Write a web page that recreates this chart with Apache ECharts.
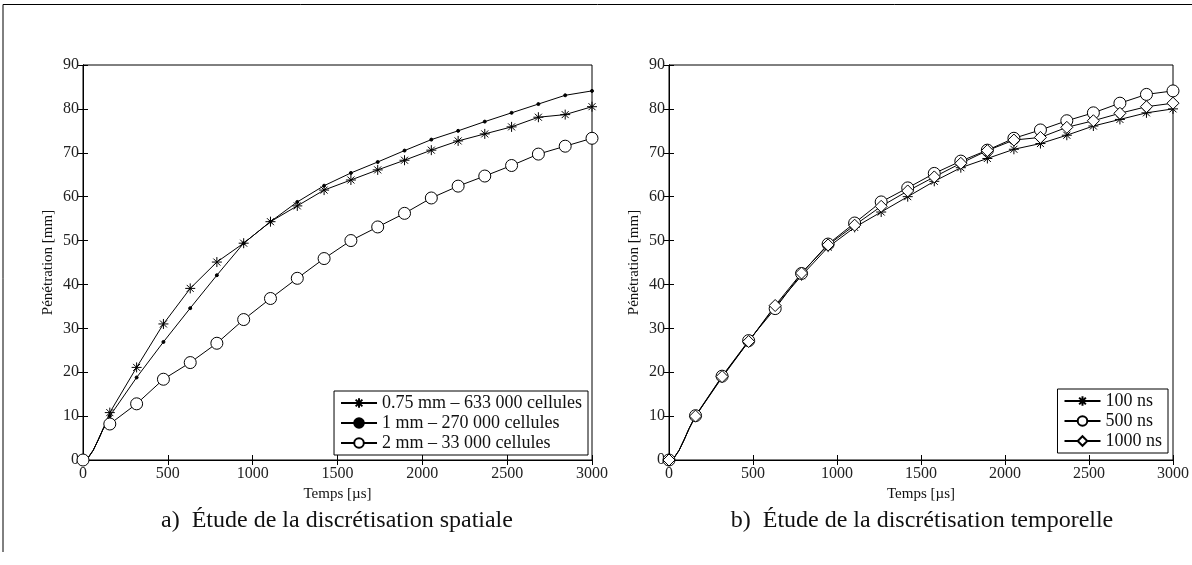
<!DOCTYPE html>
<html>
<head>
<meta charset="utf-8">
<script src="https://cdn.jsdelivr.net/npm/echarts@6/dist/echarts.min.js"></script>
<style>html,body{margin:0;padding:0;background:#fff}#c{width:1192px;height:565px}</style>
</head>
<body>
<div id="c"></div>
<script>
// ---- data ----
const startTimes = [30, 60, 90, 120];            // unmarked early points (µs)
const startVals  = [0.5, 2.2, 4.6, 7.2];         // shared start of curves (mm)
const markerTimes = [0,158,316,474,632,789,947,1105,1263,1421,1579,1737,1895,2053,2211,2368,2526,2684,2842,3000];

// a) spatial discretisation
const s075 = [0,10.8,21.1,31.0,39.1,45.1,49.4,54.3,57.9,61.5,63.8,66.1,68.3,70.6,72.7,74.3,75.9,78.1,78.7,80.5];
const s1   = [0,10.0,18.8,26.9,34.6,42.1,49.4,54.3,58.8,62.5,65.4,67.9,70.5,73.0,75.0,77.1,79.1,81.1,83.1,84.1];
const s2   = [0,8.2,12.8,18.4,22.2,26.6,32.0,36.8,41.4,45.9,50.0,53.1,56.2,59.7,62.4,64.7,67.1,69.7,71.5,73.3];
// b) temporal discretisation
const t100  = [0,10.0,18.8,27.0,35.0,42.0,48.5,53.0,56.5,60.0,63.5,66.6,68.7,70.8,72.1,74.0,76.1,77.6,79.1,80.0];
const t500  = [0,10.1,19.1,27.2,34.5,42.5,49.2,54.0,58.8,62.0,65.3,68.1,70.6,73.3,75.2,77.3,79.1,81.3,83.3,84.1];
const t1000 = [0,10.0,19.0,27.0,35.2,42.6,49.0,53.5,57.8,61.3,64.5,67.6,70.5,72.9,73.5,75.8,77.3,79.0,80.5,81.3];

const namesA = ['0.75 mm – 633 000 cellules', '1 mm – 270 000 cellules', '2 mm – 33 000 cellules'];
const namesB = ['100 ns', '500 ns', '1000 ns'];
const xTicks = [0, 500, 1000, 1500, 2000, 2500, 3000];
const yTicks = [0, 10, 20, 30, 40, 50, 60, 70, 80, 90];
const captions = ['a)  Étude de la discrétisation spatiale', 'b)  Étude de la discrétisation temporelle'];

// ---- chart ----
const FONT = "'Liberation Serif','Times New Roman',serif";
const ASTERISK = 'path://M10,0L10,20M0,10L20,10M3,3L17,17M3,17L17,3';

function buildData(vals) {
  const out = [[markerTimes[0], vals[0]]];
  startTimes.forEach((t, i) => out.push({value: [t, startVals[i]], symbol: 'none'}));
  for (let i = 1; i < markerTimes.length; i++) out.push([markerTimes[i], vals[i]]);
  return out;
}

function mkSeries(name, vals, idx, symbol, size, fill) {
  return {
    name, type: 'line', xAxisIndex: idx * 2, yAxisIndex: idx * 2,
    data: buildData(vals),
    symbol, symbolSize: size, showAllSymbol: true,
    lineStyle: {color: '#000', width: 1, type: 'solid'},
    itemStyle: {color: fill, borderColor: '#000', borderWidth: 1},
    emphasis: {disabled: true}, z: 3
  };
}

const grids = [
  {left: 83, right: 600, top: 65, bottom: 105, show: true, borderColor: '#000', borderWidth: 1},
  {left: 669, right: 16, top: 65, bottom: 105, show: true, borderColor: '#000', borderWidth: 1}
];

function xAxes(g) {
  const base = {
    type: 'value', gridIndex: g, min: 0, max: 3000, interval: 500,
    axisLine: {lineStyle: {color: '#000', width: 1}},
    axisTick: {inside: true, length: 5, lineStyle: {color: '#000'}},
    splitLine: {show: false}
  };
  return [
    Object.assign({}, base, {
      position: 'bottom', name: 'Temps [µs]', nameLocation: 'middle', nameGap: 27,
      nameTextStyle: {fontFamily: FONT, fontSize: 15, color: '#111'},
      axisLabel: {fontFamily: FONT, fontSize: 16, color: '#222', margin: 6,
        formatter: v => xTicks.includes(v) ? String(v) : ''}
    }),
    Object.assign({}, base, {position: 'top', axisLabel: {show: false}})
  ];
}
function yAxes(g) {
  const base = {
    type: 'value', gridIndex: g, min: 0, max: 90, interval: 10,
    axisLine: {lineStyle: {color: '#000', width: 1}},
    axisTick: {inside: true, length: 5, lineStyle: {color: '#000'}},
    splitLine: {show: false}
  };
  return [
    Object.assign({}, base, {
      position: 'left', name: 'Pénétration [mm]', nameLocation: 'middle', nameGap: 27,
      nameTextStyle: {fontFamily: FONT, fontSize: 15, color: '#111'},
      axisLabel: {fontFamily: FONT, fontSize: 16, color: '#222', margin: 4,
        formatter: v => yTicks.includes(v) ? String(v) : ''}
    }),
    Object.assign({}, base, {position: 'right', axisLabel: {show: false}})
  ];
}

const legendBase = {
  orient: 'vertical', backgroundColor: '#fff', borderColor: '#000', borderWidth: 1,
  itemWidth: 36, itemHeight: 12, itemGap: 2,
  textStyle: {fontFamily: FONT, fontSize: 18, color: '#111'},
  selectedMode: false
};

const option = {
  animation: false,
  backgroundColor: '#fff',
  grid: grids,
  xAxis: [...xAxes(0), ...xAxes(1)],
  yAxis: [...yAxes(0), ...yAxes(1)],
  legend: [
    Object.assign({}, legendBase, {data: namesA, right: 604, bottom: 110, padding: [3, 6, 3, 6]}),
    Object.assign({}, legendBase, {data: namesB, right: 24, bottom: 112, padding: [3, 6, 3, 6]})
  ],
  series: [
    mkSeries(namesA[0], s075, 0, ASTERISK, 10, 'none'),
    mkSeries(namesA[1], s1, 0, 'circle', 3, '#000'),
    mkSeries(namesA[2], s2, 0, 'circle', 12, '#fff'),
    mkSeries(namesB[0], t100, 1, ASTERISK, 10, 'none'),
    mkSeries(namesB[1], t500, 1, 'circle', 12, '#fff'),
    mkSeries(namesB[2], t1000, 1, 'diamond', 12, '#fff')
  ],
  graphic: [
    {type: 'polyline', shape: {points: [[3, 552], [3, 4.5], [1192, 4.5]]},
     style: {stroke: '#000', lineWidth: 1, fill: null}, silent: true},
    {type: 'text', x: 337, y: 521, style: {text: captions[0], fontFamily: FONT, fontSize: 24,
      fill: '#111', align: 'center', verticalAlign: 'middle'}},
    {type: 'text', x: 922, y: 521, style: {text: captions[1], fontFamily: FONT, fontSize: 24,
      fill: '#111', align: 'center', verticalAlign: 'middle'}}
  ]
};

const chart = echarts.init(document.getElementById('c'), null, {renderer: 'canvas'});
chart.setOption(option);
</script>
</body>
</html>
